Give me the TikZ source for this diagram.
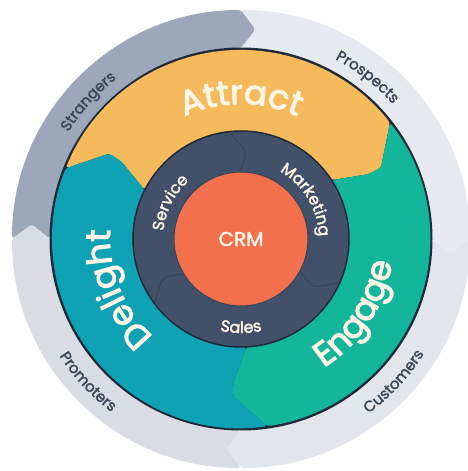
\documentclass[tikz,border=0pt]{standalone}
\usepackage{fontspec}
\setmainfont{Poppins}
\newfontfamily\labelfamily[FakeBold=2]{Poppins}
\newfontfamily\stagefamily[FakeBold=3]{Poppins}
\usetikzlibrary{decorations.text}

\definecolor{attractyellow}{HTML}{F5BA5C}
\definecolor{engagegreen}{HTML}{13B59B}
\definecolor{delightteal}{HTML}{0FA2B5}
\definecolor{hubnavy}{HTML}{425169}
\definecolor{hubseamcol}{HTML}{36445A}
\definecolor{crmorange}{HTML}{F3704E}
\definecolor{rimdark}{HTML}{1F2A3A}
\definecolor{strangergray}{HTML}{9CA7B9}
\definecolor{prospectgray}{HTML}{E7E9F0}
\definecolor{customergray}{HTML}{E2E5EC}
\definecolor{promotergray}{HTML}{D9DCE4}
\definecolor{labelink}{HTML}{3C4759}
\definecolor{wordcream}{HTML}{FFF6E6}

\newcommand\ringfont{\labelfamily\fontsize{15}{15}\selectfont}
\newcommand\hubfont{\labelfamily\fontsize{16}{16}\selectfont}
\newcommand\stagefont{\stagefamily\fontsize{34}{34}\selectfont}
\newcommand\crmfont{\labelfamily\fontsize{20}{20}\selectfont}

\tikzset{
  ringlabel/.style={decorate, decoration={text along path, text align=center,
      text color=labelink, text={|\ringfont|#1}}},
  hublabel/.style={decorate, decoration={text along path, text align=center,
      text color=wordcream, text={|\hubfont|#1}}},
  stagelabel/.style={decorate, decoration={text along path, text align=center,
      text color=wordcream, text={|\stagefont|#1}}},
  hubseam/.style={draw=hubseamcol, line width=1pt, rounded corners=6pt},
}

\begin{document}
\begin{tikzpicture}
  \useasboundingbox[fill=white] (-241pt,-232pt) rectangle (227pt,239pt);

  % outer ring, four chevron segments
  \fill[strangergray, rounded corners=3pt] (180:229pt) arc[start angle=180, end angle=90, radius=229pt]
    -- (86:210pt) -- (90:191pt) arc[start angle=90, end angle=180, radius=191pt] -- (176:210pt) -- cycle;
  \fill[prospectgray, rounded corners=3pt] (90:229pt) arc[start angle=90, end angle=0, radius=229pt]
    -- (-4:210pt) -- (0:191pt) arc[start angle=0, end angle=90, radius=191pt] -- (86:210pt) -- cycle;
  \fill[customergray, rounded corners=3pt] (0:229pt) arc[start angle=0, end angle=-90, radius=229pt]
    -- (-94:210pt) -- (-90:191pt) arc[start angle=-90, end angle=0, radius=191pt] -- (-4:210pt) -- cycle;
  \fill[promotergray, rounded corners=3pt] (-90:229pt) arc[start angle=-90, end angle=-180, radius=229pt]
    -- (-184:210pt) -- (-180:191pt) arc[start angle=-180, end angle=-90, radius=191pt] -- (-94:210pt) -- cycle;

  \fill[rimdark] (0,0) circle[radius=191.5pt];

  % attract / engage / delight
  \fill[attractyellow, rounded corners=3pt] (158:189pt) arc[start angle=158, end angle=38, radius=189pt]
    -- (27:157pt) -- (27:143pt) -- (33:108pt) arc[start angle=33, end angle=153, radius=108pt]
    -- (147:143pt) -- (147:157pt) -- cycle;
  \fill[engagegreen, rounded corners=3pt] (38:189pt) arc[start angle=38, end angle=-82, radius=189pt]
    -- (-93:157pt) -- (-93:143pt) -- (-87:108pt) arc[start angle=-87, end angle=33, radius=108pt]
    -- (27:143pt) -- (27:157pt) -- cycle;
  \fill[delightteal, rounded corners=3pt] (278:189pt) arc[start angle=278, end angle=158, radius=189pt]
    -- (147:157pt) -- (147:143pt) -- (153:108pt) arc[start angle=153, end angle=273, radius=108pt]
    -- (267:143pt) -- (267:157pt) -- cycle;

  % hub ring and crm
  \node[circle, fill=hubnavy, draw=rimdark, line width=1.5pt, minimum size=216pt, inner sep=0pt] (hub) at (0,0) {};
  \draw[hubseam] (96:107pt) -- (86:87pt) -- (91:68pt);
  \draw[hubseam] (-24:107pt) -- (-34:87pt) -- (-29:68pt);
  \draw[hubseam] (216:107pt) -- (206:87pt) -- (211:68pt);
  \node[circle, fill=crmorange, draw=hubseamcol, line width=1pt, minimum size=134pt, inner sep=0pt,
    text=wordcream, font=\crmfont] (crm) at (0,0) {CRM};

  % ring labels
  \path[ringlabel=Strangers] (198:203pt) arc[start angle=198, end angle=78, radius=203pt];
  \path[ringlabel=Prospects] (112:203pt) arc[start angle=112, end angle=-8, radius=203pt];
  \path[ringlabel=Customers] (-103:216pt) arc[start angle=-103, end angle=17, radius=216pt];
  \path[ringlabel=Promoters] (163:216pt) arc[start angle=163, end angle=283, radius=216pt];

  \path[stagelabel=Attract] (150:135pt) arc[start angle=150, end angle=30, radius=135pt];
  \path[stagelabel=Delight] (262:131pt) arc[start angle=262, end angle=142, radius=131pt];
  \path[stagelabel=Engage] (-93:153pt) arc[start angle=-93, end angle=27, radius=153pt];

  \path[hublabel=Service] (213:78pt) arc[start angle=213, end angle=93, radius=78pt];
  \path[hublabel=Marketing] (91:78pt) arc[start angle=91, end angle=-29, radius=78pt];
  \path[hublabel=Sales] (210:94pt) arc[start angle=210, end angle=330, radius=94pt];
\end{tikzpicture}
\end{document}
